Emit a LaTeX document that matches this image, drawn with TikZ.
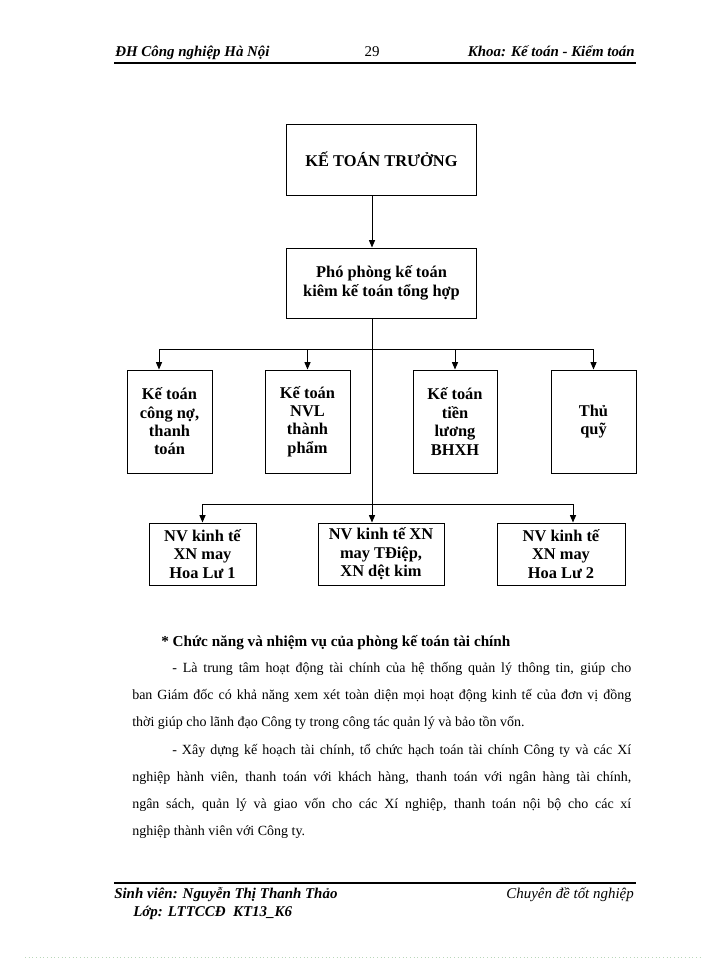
\documentclass[tikz,border=0pt]{standalone}
\usepackage{fontspec}
\setmainfont{Liberation Serif}
\usetikzlibrary{arrows.meta}
\begin{document}
\begin{tikzpicture}[x=0.75pt,y=-0.75pt,
  box/.style={draw,line width=0.75pt,inner sep=1pt,align=center,
    font=\fontsize{12.3}{13.8}\selectfont\bfseries},
  arr/.style={line width=0.75pt,-{Triangle[length=5.5pt,width=4.5pt]}},
  rule/.style={line width=1.5pt},
  hdr/.style={inner sep=0pt,font=\fontsize{11.2}{12}\selectfont\bfseries\itshape},
  body/.style={inner sep=0pt,anchor=base west,font=\fontsize{10.5}{12}\selectfont}]
\useasboundingbox (0,0) rectangle (700,960);
\fill[white] (0,0) rectangle (700,960);
% header
\node[hdr,anchor=base west] (h1) at (115,56) {ĐH Công nghiệp Hà Nội};
\node[inner sep=0pt,anchor=base,font=\fontsize{11.2}{12}\selectfont] (h2) at (372,56) {29};
\node[hdr,anchor=base east] (h3) at (635,56) {Khoa: Kế toán - Kiểm toán};
\draw[rule] (114,63) -- (636,63);
% chart
\node[box,minimum width=142.5pt,minimum height=53.25pt] (kt) at (381.5,159.5) {KẾ TOÁN TRƯỞNG};
\node[box,minimum width=142.5pt,minimum height=52.5pt] (pp) at (381.5,283) {Phó phòng kế toán\\kiêm kế toán tổng hợp};
\node[box,minimum width=63.75pt,minimum height=77.25pt] (b1) at (169.5,421.5) {Kế toán\\công nợ,\\thanh\\toán};
\node[box,minimum width=63.75pt,minimum height=77.25pt] (b2) at (307.5,421.5) {Kế toán\\NVL\\thành\\phẩm};
\node[box,minimum width=63pt,minimum height=77.25pt] (b3) at (455,421.5) {Kế toán\\tiền\\lương\\BHXH};
\node[box,minimum width=63.75pt,minimum height=77.25pt] (b4) at (593.5,421.5) {Thủ\\quỹ};
\node[box,minimum width=80.25pt,minimum height=46.5pt] (c1) at (202.5,554) {NV kinh tế\\XN may\\Hoa Lư 1};
\node[box,minimum width=94.5pt,minimum height=46.5pt] (c2) at (381,554) {NV kinh tế XN\\may TĐiệp,\\XN dệt kim};
\node[box,minimum width=96pt,minimum height=46.5pt] (c3) at (561,554) {NV kinh tế\\XN may\\Hoa Lư 2};
\coordinate (j1) at (372,349);
\coordinate (j2) at (372,504);
\draw[arr] ([xshift=-7.125pt]kt.south) -- ([xshift=-7.125pt]pp.north);
\draw[arr] ([xshift=-7.125pt]pp.south) -- ([xshift=-7.125pt]pp.south |- c2.north);
\draw[arr] (j1) -| ([xshift=-7.875pt]b1.north);
\draw[arr] (j1) -| (b2.north);
\draw[arr] (j1) -| (b3.north);
\draw[arr] (j1) -| (b4.north);
\draw[arr] (j2) -| (c1.north);
\draw[arr] (j2) -| ([xshift=9pt]c3.north);
% body text
\node[body,font=\fontsize{11.4}{12}\selectfont\bfseries] (t0) at (161,646) {* Chức năng và nhiệm vụ của phòng kế toán tài chính};
\node[body] (t1) at (172,672) {\makebox[344.25pt][s]{- Là trung tâm hoạt động tài chính của hệ thống quản lý thông tin, giúp cho}};
\node[body] (t2) at (132,699) {\makebox[374.25pt][s]{ban Giám đốc có khả năng xem xét toàn diện mọi hoạt động kinh tế của đơn vị đồng}};
\node[body] (t3) at (132,726) {thời giúp cho lãnh đạo Công ty trong công tác quản lý và bảo tồn vốn.};
\node[body] (t4) at (172,754) {\makebox[344.25pt][s]{- Xây dựng kế hoạch tài chính, tổ chức hạch toán tài chính Công ty và các Xí}};
\node[body] (t5) at (132,781) {\makebox[374.25pt][s]{nghiệp hành viên, thanh toán với khách hàng, thanh toán với ngân hàng tài chính,}};
\node[body] (t6) at (132,808) {\makebox[374.25pt][s]{ngân sách, quản lý và giao vốn cho các Xí nghiệp, thanh toán nội bộ cho các xí}};
\node[body] (t7) at (132,835) {nghiệp thành viên với Công ty.};
% footer
\draw[rule] (114,883) -- (636,883);
\node[hdr,anchor=base west] (f1) at (114,898) {Sinh viên: Nguyễn Thị Thanh Thảo};
\node[hdr,anchor=base west] (f2) at (133,916) {Lớp: LTTCCĐ\ \ KT13\_K6};
\node[inner sep=0pt,anchor=base east,font=\fontsize{11.2}{12}\selectfont\itshape] (f3) at (634,898) {Chuyên đề tốt nghiệp};
\draw[dotted,line width=0.75pt,color={rgb,255:red,185;green,215;blue,185}] (25,957) -- (700,957);
\end{tikzpicture}
\end{document}
